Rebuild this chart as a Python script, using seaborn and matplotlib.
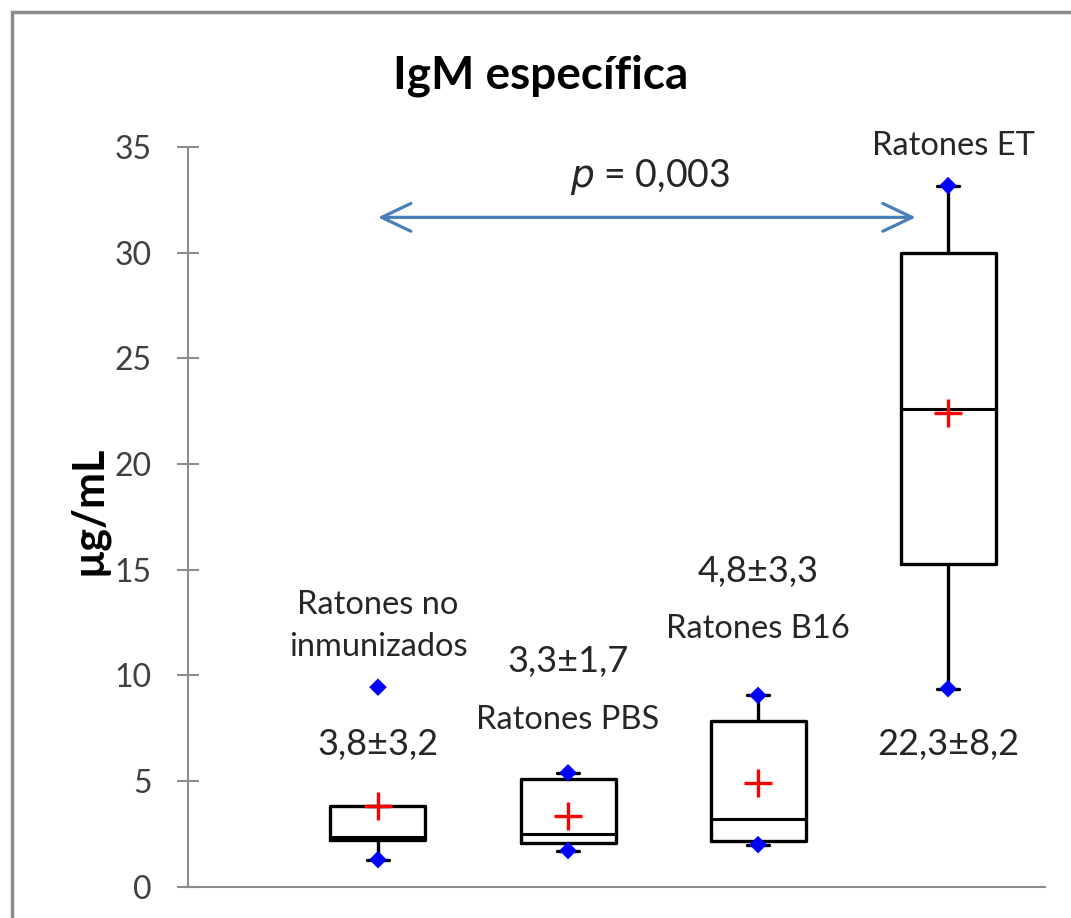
import matplotlib
matplotlib.use("Agg")
import matplotlib.pyplot as plt
import seaborn as sns
import pandas as pd
from matplotlib.patches import Rectangle

# datos (µg/mL)
grupos = ["Ratones no inmunizados", "Ratones PBS", "Ratones B16", "Ratones ET"]
q1 = [2.23, 2.07, 2.18, 15.25]
mediana = [2.37, 2.50, 3.21, 22.58]
q3 = [3.80, 5.10, 7.86, 30.00]
minimo = [1.28, 1.71, 1.99, 9.37]
maximo = [9.44, 5.39, 9.05, 33.17]
bigote_sup = [3.80, 5.39, 9.05, 33.17]
media = [3.84, 3.36, 4.89, 22.40]
texto_media = ["3,8±3,2", "3,3±1,7", "4,8±3,3", "22,3±8,2"]
etiquetas = ["Ratones no\ninmunizados", "Ratones PBS", "Ratones B16", "Ratones ET"]
p_valor = "0,003"

sns.set_style("white")
plt.rcParams['font.family'] = ['Lato', 'DejaVu Sans']

fig = plt.figure(figsize=(10.71, 9.18), dpi=100)
ax = fig.add_axes([0.1755, 0.0341, 0.8002, 0.8058])

pos = list(range(len(grupos)))
stats = []
for i in pos:
    stats.append(dict(q1=q1[i], med=mediana[i], q3=q3[i],
                      whislo=minimo[i], whishi=bigote_sup[i], fliers=[]))

ax.bxp(stats, positions=pos, widths=0.5, capwidths=0.12, showfliers=False,
       boxprops=dict(color='black', linewidth=2.4),
       medianprops=dict(color='black', linewidth=2.2),
       whiskerprops=dict(color='black', linewidth=2.4),
       capprops=dict(color='black', linewidth=2.4))

# minimos y maximos (rombos azules)
puntos = pd.DataFrame({'x': pos * 2, 'y': minimo + maximo})
sns.scatterplot(data=puntos, x='x', y='y', marker='D', s=80, color='#0000ff',
                edgecolor='none', ax=ax, zorder=5)

# medias (cruces rojas)
medias = pd.DataFrame({'x': pos, 'y': media})
sns.scatterplot(data=medias, x='x', y='y', marker='+', s=400, color='#ff0000',
                linewidth=2.4, ax=ax, zorder=6)

ax.set_xlim(-1.0, 3.51)
ax.set_ylim(0, 35)
ax.set_yticks(range(0, 36, 5))
ax.set_xticks([])
ax.set_xlabel("")
ax.set_ylabel("")
for s in ['top', 'right']:
    ax.spines[s].set_visible(False)
for s in ['left', 'bottom']:
    ax.spines[s].set_color('#8c8c8c')
    ax.spines[s].set_linewidth(1.5)
ax.tick_params(axis='y', direction='inout', length=16, width=1.5, color='#8c8c8c',
               labelsize=23, labelcolor='#404040', pad=18, left=True)

# textos de cada grupo
col = '#262626'
fs_lab = 23.5
fs_num = 26
ax.text(0, 12.35, etiquetas[0], ha='center', va='center', fontsize=fs_lab, color=col, linespacing=1.5)
ax.text(0, 6.71, texto_media[0], ha='center', va='center', fontsize=fs_num, color=col)
ax.text(1, 10.65, texto_media[1], ha='center', va='center', fontsize=fs_num, color=col)
ax.text(1, 7.9, etiquetas[1], ha='center', va='center', fontsize=fs_lab, color=col)
ax.text(2, 14.9, texto_media[2], ha='center', va='center', fontsize=fs_num, color=col)
ax.text(2, 12.17, etiquetas[2], ha='center', va='center', fontsize=fs_lab, color=col)
ax.text(3.03, 35.05, etiquetas[3], ha='center', va='center', fontsize=fs_lab, color=col)
ax.text(3, 6.71, texto_media[3], ha='center', va='center', fontsize=fs_num, color=col)

# flecha con valor p
ax.annotate("", xy=(0, 31.67), xytext=(2.83, 31.67),
            arrowprops=dict(arrowstyle='<->,head_length=2.1,head_width=1.0',
                            color='#4a7ebb', lw=2.3, shrinkA=0, shrinkB=0))
ax.text(1.43, 33.6, "$\\it{p}$ = " + p_valor, ha='center', va='center', fontsize=27, color=col)

fig.text(0.505, 0.918, "IgM específica", ha='center', va='center', fontsize=33,
         fontweight='bold', color='black')
fig.text(88 / 1071, 1 - 510 / 918, "µg/mL", ha='center', va='center', rotation=90,
         fontsize=31, fontweight='bold', color='black')

# marco exterior del grafico
fig.add_artist(Rectangle((12 / 1071, -0.1), 1.2, 1 - 12 / 918 + 0.1, transform=fig.transFigure,
                         fill=False, edgecolor='#8c8c8c', linewidth=2.5))

fig.savefig("out.png", dpi=100)
